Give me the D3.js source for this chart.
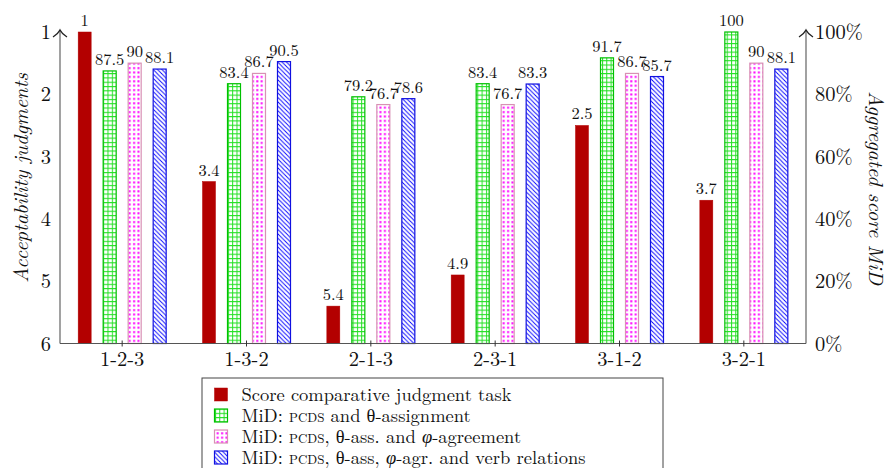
<!DOCTYPE html>
<html>
<head>
<meta charset="utf-8">
<script src="https://cdn.jsdelivr.net/npm/d3@7"></script>
<style>
  body { margin: 0; background: #fff; }
</style>
</head>
<body>
<script>
const width = 892;
const height = 468;
const serif = '"Latin Modern Roman", "Liberation Serif", serif';

// data
const categories = ['1-2-3', '1-3-2', '2-1-3', '2-3-1', '3-1-2', '3-2-1'];
const scoreTask = [1, 3.4, 5.4, 4.9, 2.5, 3.7];
const midTheta = [87.5, 83.4, 79.2, 83.4, 91.7, 100];
const midAgree = [90, 86.7, 76.7, 76.7, 86.7, 90];
const midVerb = [88.1, 90.5, 78.6, 83.3, 85.7, 88.1];
const leftTicks = [1, 2, 3, 4, 5, 6];
const rightTicks = [0, 20, 40, 60, 80, 100];

const series = [
  {key: 'task', values: scoreTask, fill: '#b30000', stroke: '#b30000'},
  {key: 'theta', values: midTheta, fill: 'url(#pGrid)', stroke: '#00c000'},
  {key: 'agree', values: midAgree, fill: 'url(#pDots)', stroke: '#d890b4'},
  {key: 'verb', values: midVerb, fill: 'url(#pLines)', stroke: '#1010e0'}
];

const pLeft = 60, pRight = 806, pTop = 32, pBottom = 343.5;
const barW = 13;

const svg = d3.select('body').append('svg').attr('width', width).attr('height', height);

// patterns
const defs = svg.append('defs');
const pg = defs.append('pattern').attr('id', 'pGrid').attr('patternUnits', 'userSpaceOnUse')
  .attr('width', 4.3).attr('height', 4.3);
pg.append('rect').attr('width', 4.3).attr('height', 4.3).attr('fill', '#fff');
pg.append('path').attr('d', 'M0,0.5H4.3M0.5,0V4.3').attr('stroke', '#22e022').attr('stroke-width', 1);

const pd = defs.append('pattern').attr('id', 'pDots').attr('patternUnits', 'userSpaceOnUse')
  .attr('width', 4.4).attr('height', 4.4);
pd.append('rect').attr('width', 4.4).attr('height', 4.4).attr('fill', '#fff');
pd.append('rect').attr('x', 1.1).attr('y', 1.1).attr('width', 2).attr('height', 2).attr('fill', '#ff00ff');

const pl = defs.append('pattern').attr('id', 'pLines').attr('patternUnits', 'userSpaceOnUse')
  .attr('width', 4.4).attr('height', 4.4);
pl.append('rect').attr('width', 4.4).attr('height', 4.4).attr('fill', '#fff');
pl.append('path').attr('d', 'M-1,-1L5.4,5.4M-1,3.4L1,5.4M3.4,-1L5.4,1')
  .attr('stroke', '#0000ff').attr('stroke-width', 0.9);

// scales
const x = d3.scaleBand().domain(categories).range([pLeft, pRight]);
const xs = d3.scaleBand().domain(series.map(s => s.key)).range([-50, 50]);
const yL = d3.scaleLinear().domain([1, 6]).range([pTop, pBottom]);
const yR = d3.scaleLinear().domain([0, 100]).range([pBottom, pTop]);

const barX = (cat, key) => x(cat) + x.bandwidth() / 2 + xs(key) + (xs.bandwidth() - barW) / 2;

// bars
series.forEach((s, si) => {
  const yy = si === 0 ? yL : yR;
  const g = svg.append('g');
  g.selectAll('rect')
    .data(categories.map((c, i) => ({c, v: s.values[i]})))
    .enter().append('rect')
    .attr('x', d => barX(d.c, s.key))
    .attr('y', d => yy(d.v))
    .attr('width', barW)
    .attr('height', d => pBottom - yy(d.v))
    .attr('fill', s.fill)
    .attr('stroke', s.stroke)
    .attr('stroke-width', si === 0 ? 0.5 : 1.2);
  g.selectAll('text')
    .data(categories.map((c, i) => ({c, v: s.values[i]})))
    .enter().append('text')
    .attr('x', d => barX(d.c, s.key) + barW / 2)
    .attr('y', d => yy(d.v) - 6)
    .attr('text-anchor', 'middle')
    .style('font-family', serif)
    .style('font-size', '16.5px')
    .attr('fill', '#111')
    .text(d => d.v);
});

// axes
const axisColor = '#555';
const arrow = xx => `M${xx - 7},${pTop + 5} Q${xx - 2},${pTop + 2} ${xx},${pTop - 2} Q${xx + 2},${pTop + 2} ${xx + 7},${pTop + 5}`;

svg.append('line').attr('x1', pLeft).attr('x2', pLeft).attr('y1', pBottom).attr('y2', pTop - 2)
  .attr('stroke', axisColor).attr('stroke-width', 1.1);
svg.append('line').attr('x1', pRight).attr('x2', pRight).attr('y1', pBottom).attr('y2', pTop - 2)
  .attr('stroke', axisColor).attr('stroke-width', 1.1);
svg.append('path').attr('d', arrow(pLeft)).attr('fill', 'none').attr('stroke', '#222').attr('stroke-width', 1.4);
svg.append('path').attr('d', arrow(pRight)).attr('fill', 'none').attr('stroke', '#222').attr('stroke-width', 1.4);

const styleTicks = g => g.selectAll('text')
  .style('font-family', serif).style('font-size', '20.5px').attr('fill', '#111');

const gL = svg.append('g').attr('transform', `translate(${pLeft},0)`)
  .call(d3.axisLeft(yL).tickValues(leftTicks).tickSize(0).tickPadding(9).tickFormat(d3.format('d')));
gL.select('.domain').remove();
styleTicks(gL);

const gR = svg.append('g').attr('transform', `translate(${pRight},0)`)
  .call(d3.axisRight(yR).tickValues(rightTicks).tickSize(0).tickPadding(9).tickFormat(d => d + '%'));
gR.select('.domain').remove();
styleTicks(gR);

const gB = svg.append('g').attr('transform', `translate(0,${pBottom})`)
  .call(d3.axisBottom(x).tickSize(3).tickPadding(5.3));
gB.select('.domain').attr('d', `M${pLeft},0H${pRight}`).attr('stroke', axisColor).attr('stroke-width', 1.1);
gB.selectAll('.tick line').attr('y1', -3).attr('stroke', '#333');
styleTicks(gB);

// axis titles
svg.append('text')
  .attr('transform', 'translate(28,178) rotate(-90)')
  .attr('text-anchor', 'middle').attr('fill', '#111')
  .style('font-family', serif).style('font-size', '20.5px').style('font-style', 'italic')
  .text('Acceptability judgments');
svg.append('text')
  .attr('transform', 'translate(869,188) rotate(90)')
  .attr('text-anchor', 'middle').attr('fill', '#111')
  .style('font-family', serif).style('font-size', '20.5px').style('font-style', 'italic')
  .text('Aggregated score MiD');

// legend
const legendRows = [
  [{t: 'Score comparative judgment task'}],
  [{t: 'MiD: '}, {t: 'pcds', sc: true}, {t: ' and θ-assignment'}],
  [{t: 'MiD: '}, {t: 'pcds', sc: true}, {t: ', θ-ass. and '}, {t: 'φ', it: true}, {t: '-agreement'}],
  [{t: 'MiD: '}, {t: 'pcds', sc: true}, {t: ', θ-ass, '}, {t: 'φ', it: true}, {t: '-agr. and verb relations'}]
];
const legendY = d3.scaleLinear().domain([0, 3]).range([394.5, 457.5]);

svg.append('rect').attr('x', 202).attr('y', 378).attr('width', 461).attr('height', 110)
  .attr('fill', '#fff').attr('stroke', '#444').attr('stroke-width', 1);

const lg = svg.append('g');
legendRows.forEach((parts, i) => {
  const s = series[i];
  const cy = legendY(i);
  lg.append('rect').attr('x', 214.5).attr('y', cy - 6.5).attr('width', 13).attr('height', 13)
    .attr('fill', s.fill).attr('stroke', s.stroke).attr('stroke-width', i === 0 ? 0.5 : 1.2);
  const t = lg.append('text').attr('x', 241.5).attr('y', cy + 6).attr('fill', '#111')
    .style('font-family', serif).style('font-size', '18.5px');
  parts.forEach(p => {
    const ts = t.append('tspan').text(p.t);
    if (p.sc) ts.style('font-variant', 'small-caps');
    if (p.it) ts.style('font-style', 'italic');
  });
});
</script>
</body>
</html>
